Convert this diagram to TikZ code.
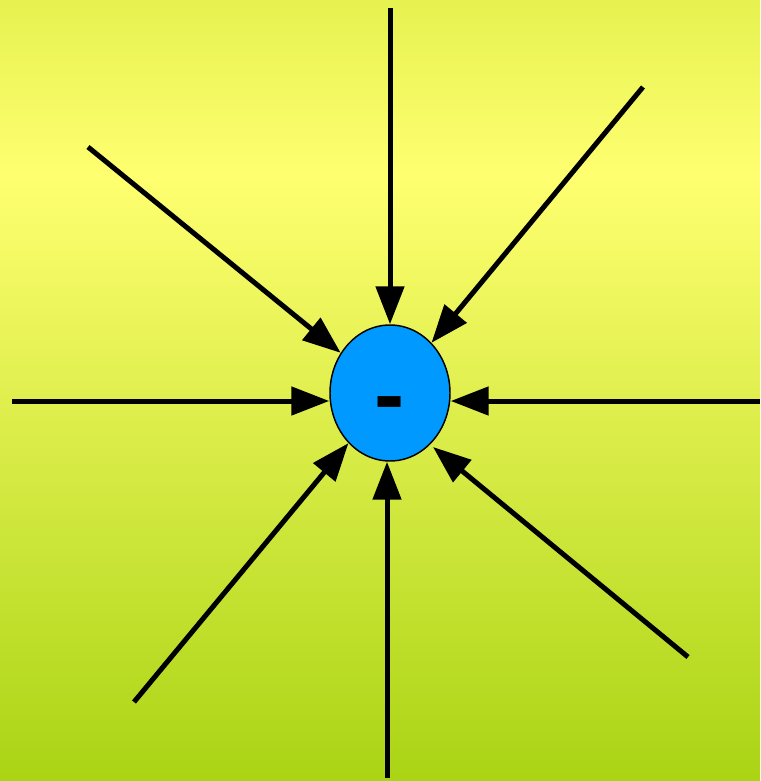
\documentclass[tikz,border=0pt]{standalone}
\usepackage{fontspec}
\setmainfont{Liberation Sans}
\usetikzlibrary{shapes.geometric,arrows.meta}
\definecolor{bgtop}{RGB}{230,242,80}
\definecolor{bgmid}{RGB}{255,255,112}
\definecolor{bgbot}{RGB}{170,212,20}
\definecolor{chargeblue}{RGB}{0,153,255}
\tikzset{
  field/.style={line width=3.75pt,-{Triangle[length=28.5pt,width=21pt]}},
  charge/.style={ellipse,draw=black,line width=1.1pt,fill=chargeblue,minimum width=90pt,minimum height=102pt,inner sep=0pt}
}
\begin{document}
\begin{tikzpicture}[x=0.75pt,y=-0.75pt]
\useasboundingbox (0,0) rectangle (760,781);
\shade[top color=bgtop,bottom color=bgmid] (0,0) rectangle (760,176);
\shade[top color=bgmid,bottom color=bgbot] (0,175.5) rectangle (760,781);
\node[charge] (c) at (390,393) {};
\node[font=\fontsize{68}{68}\selectfont\bfseries,inner sep=0pt,anchor=base] (m) at (390,425) {-};
\coordinate (pt) at (390,8);
\coordinate (ptr) at (643,87);
\coordinate (ptl) at (88,147);
\coordinate (pl) at (12,401);
\coordinate (pr) at (760,401);
\coordinate (pbl) at (134,702);
\coordinate (pb) at (387,778);
\coordinate (pbr) at (688,657);
\coordinate (tbr) at (433,447);
\draw[field] (pt) -- (c.north);
\draw[field] (ptr) -- (c);
\draw[field] (ptl) -- (c);
\draw[field] (pl) -- (c.west |- pl);
\draw[field] (pr) -- (c.east |- pr);
\draw[field] (pbl) -- (c);
\draw[field] (pb) -- (pb |- c.south);
\draw[field] (pbr) -- (tbr);
\end{tikzpicture}
\end{document}
